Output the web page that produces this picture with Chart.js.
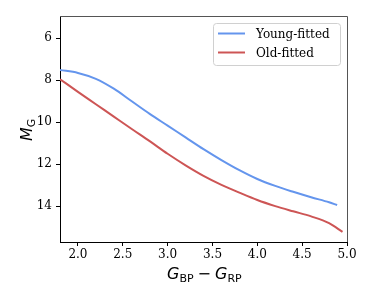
<!DOCTYPE html>
<html>
<head>
<meta charset="utf-8">
<script src="https://cdn.jsdelivr.net/npm/chart.js@4.4.0/dist/chart.umd.min.js"></script>
<style>
  body { margin: 0; background: #fff; }
  #cmd { display: block; }
</style>
</head>
<body>
<canvas id="cmd" width="374" height="299"></canvas>
<script>
// colour (G_BP - G_RP) and absolute magnitude M_G for each fitted sequence
const youngColor = [1.8, 2.0, 2.2, 2.4, 2.6, 2.8, 3.0, 3.2, 3.4, 3.6, 3.8, 4.0, 4.2, 4.4, 4.6, 4.8, 4.89];
const youngMag = [7.51, 7.65, 7.93, 8.4, 9.0, 9.6, 10.16, 10.72, 11.28, 11.8, 12.28, 12.7, 13.03, 13.31, 13.57, 13.81, 13.94];
const oldColor = [1.8, 2.0, 2.2, 2.4, 2.6, 2.8, 3.0, 3.2, 3.4, 3.6, 3.8, 4.0, 4.2, 4.4, 4.6, 4.8, 4.95];
const oldMag = [7.95, 8.55, 9.14, 9.73, 10.32, 10.9, 11.5, 12.05, 12.55, 12.98, 13.35, 13.7, 13.99, 14.24, 14.48, 14.8, 15.22];
const seriesNames = ["Young-fitted", "Old-fitted"];
const xTicks = [2.0, 2.5, 3.0, 3.5, 4.0, 4.5, 5.0];
const yTicks = [6, 8, 10, 12, 14];

const toPoints = (xs, ys) => xs.map((x, i) => ({ x: x, y: ys[i] }));

const tickFont = { family: "DejaVu Serif", size: 12 };

// frame, axis labels and legend drawn the matplotlib way
const extras = {
    id: "extras",
    afterDraw(chart) {
        const ctx = chart.ctx;
        const a = chart.chartArea;
        ctx.save();
        ctx.strokeStyle = "#555";
        ctx.lineWidth = 1;
        ctx.beginPath();
        ctx.moveTo(a.left, a.top + 0.5);
        ctx.lineTo(a.right + 0.5, a.top + 0.5);
        ctx.lineTo(a.right + 0.5, a.bottom);
        ctx.stroke();

        // x axis label: G_BP - G_RP
        ctx.fillStyle = "#000";
        ctx.textBaseline = "alphabetic";
        ctx.textAlign = "left";
        let x = 167, y = 279;
        const big = "italic 16px 'DejaVu Sans'";
        const sub = "11px 'DejaVu Sans'";
        ctx.font = big; ctx.fillText("G", x, y); x += ctx.measureText("G").width;
        ctx.font = sub; ctx.fillText("BP", x, y + 3); x += ctx.measureText("BP").width + 4;
        ctx.font = "16px 'DejaVu Sans'"; ctx.fillText("\u2212", x, y); x += ctx.measureText("\u2212").width + 4;
        ctx.font = big; ctx.fillText("G", x, y); x += ctx.measureText("G").width;
        ctx.font = sub; ctx.fillText("RP", x, y + 3);

        // y axis label: M_G
        ctx.translate(32, 141);
        ctx.rotate(-Math.PI / 2);
        ctx.font = big; ctx.fillText("M", 0, 0);
        let w = ctx.measureText("M").width;
        ctx.font = sub; ctx.fillText("G", w, 3);
        ctx.setTransform(1, 0, 0, 1, 0, 0);

        // legend
        const bx = 213, by = 23, bw = 127, bh = 42, r = 3;
        ctx.fillStyle = "rgba(255,255,255,0.8)";
        ctx.strokeStyle = "#d0d0d0";
        ctx.beginPath();
        ctx.roundRect(bx + 0.5, by + 0.5, bw, bh, r);
        ctx.fill();
        ctx.stroke();
        ctx.font = "12px 'DejaVu Serif'";
        ctx.textBaseline = "middle";
        chart.data.datasets.forEach((ds, i) => {
            const ly = 33.5 + i * 19;
            ctx.strokeStyle = ds.borderColor;
            ctx.lineWidth = 2;
            ctx.beginPath();
            ctx.moveTo(218, ly);
            ctx.lineTo(245, ly);
            ctx.stroke();
            ctx.fillStyle = "#000";
            ctx.fillText(ds.label, 256, ly + 1);
        });
        ctx.restore();
    }
};

new Chart(document.getElementById("cmd"), {
    type: "line",
    data: {
        datasets: [
            {
                label: seriesNames[0],
                data: toPoints(youngColor, youngMag),
                borderColor: "rgb(100, 149, 237)",
                borderWidth: 2,
                pointRadius: 0,
                cubicInterpolationMode: "monotone",
                fill: false,
            },
            {
                label: seriesNames[1],
                data: toPoints(oldColor, oldMag),
                borderColor: "rgb(205, 85, 85)",
                borderWidth: 2,
                pointRadius: 0,
                cubicInterpolationMode: "monotone",
                fill: false,
            },
        ],
    },
    options: {
        responsive: false,
        animation: false,
        layout: { padding: { left: 0, right: 27, top: 16, bottom: 0 } },
        plugins: { legend: { display: false }, tooltip: { enabled: false } },
        scales: {
            x: {
                type: "linear",
                min: 1.8,
                max: 5.0,
                afterBuildTicks: (s) => { s.ticks = xTicks.map(v => ({ value: v })); },
                afterFit: (s) => { s.height = 57; },
                ticks: { font: tickFont, color: "#000", padding: 2, maxRotation: 0, callback: (v) => v.toFixed(1) },
                grid: { drawOnChartArea: false, tickLength: 4, color: "#000" },
                border: { display: true, color: "#000", width: 1 },
            },
            y: {
                type: "linear",
                reverse: true,
                min: 4.94,
                max: 15.7,
                afterBuildTicks: (s) => { s.ticks = yTicks.map(v => ({ value: v })); },
                afterFit: (s) => { s.width = 60; },
                ticks: { font: tickFont, color: "#000", padding: 4 },
                grid: { drawOnChartArea: false, tickLength: 4, color: "#000" },
                border: { display: true, color: "#000", width: 1 },
            },
        },
    },
    plugins: [extras],
});
</script>
</body>
</html>
